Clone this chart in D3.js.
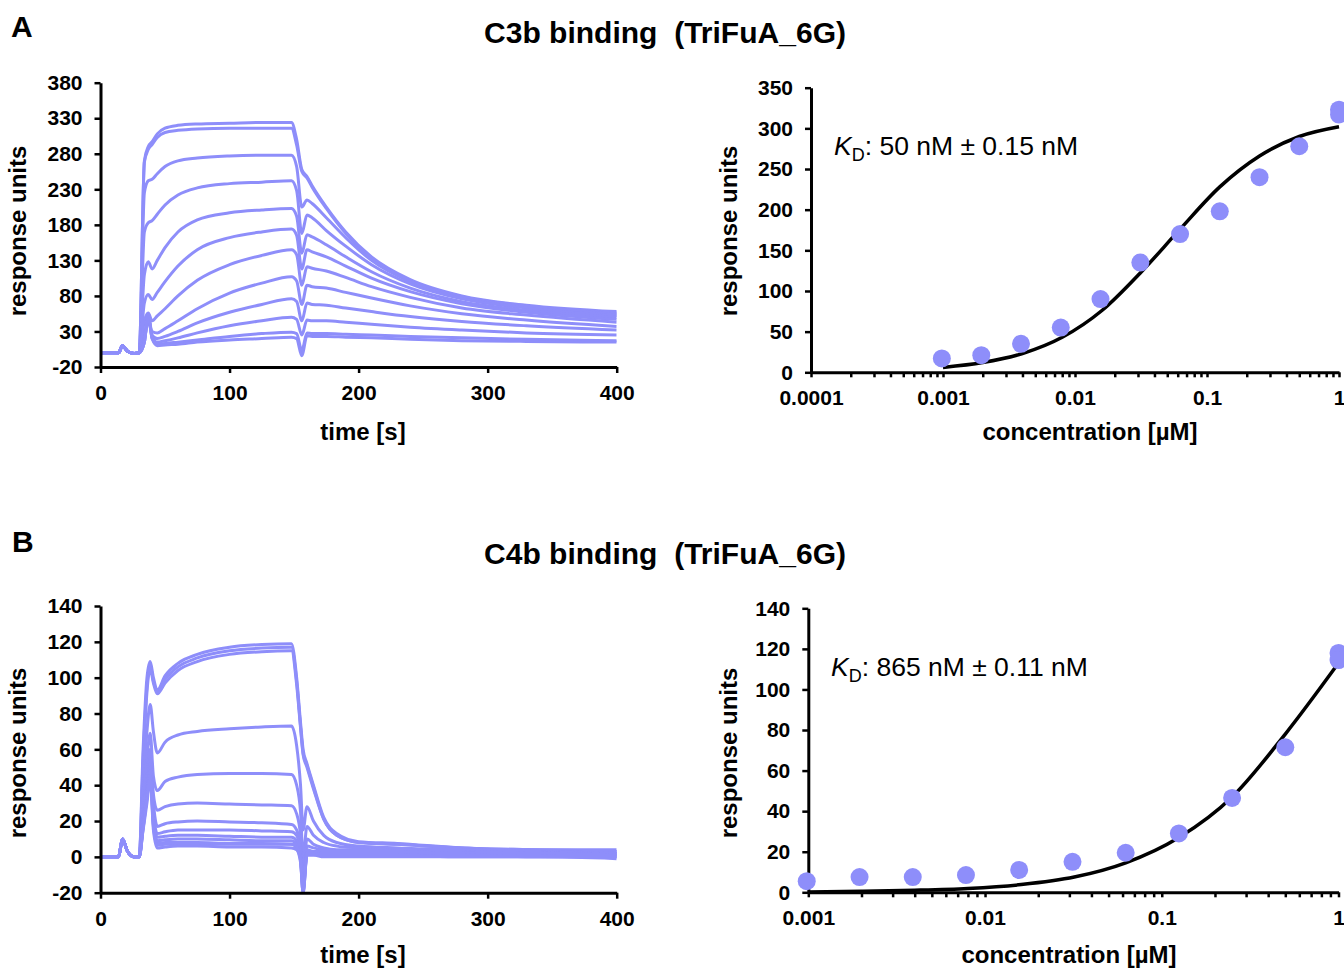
<!DOCTYPE html>
<html>
<head>
<meta charset="utf-8">
<script src="https://cdn.jsdelivr.net/npm/d3@7"></script>
<style>
  body { margin: 0; background: #fff; }
  svg { display: block; font-family: Arial, 'Liberation Sans', sans-serif; }
  .tick text { font-size: 21px; font-weight: bold; fill: #000; }
  .axis path, .axis line { stroke: #000; }
  .axis path { stroke-width: 3; }
  .axis line { stroke-width: 2.5; }
</style>
</head>
<body>
<svg id="chart" width="1344" height="969"></svg>
<script>
// sensorgram times (s)
const timeA = [0, 14, 17, 21, 26, 30, 34, 37, 40, 44, 50, 60, 75, 100, 125, 148, 152, 156, 160, 164, 175, 190, 210, 240, 280, 330, 400];
const tracesA = [
  [0, 0, 10, 2, -1, 0, 270, 290, 297, 308, 316, 320, 322, 323, 324, 324, 300, 258, 248, 235, 205, 170, 135, 103, 80, 67, 58],
  [0, 0, 10, 2, -1, 0, 268, 286, 293, 303, 310, 313, 315, 316, 316, 316, 292, 255, 246, 233, 203, 168, 133, 101, 79, 66, 56],
  [0, 0, 10, 2, -1, 0, 225, 242, 244, 252, 262, 270, 274, 277, 278, 278, 262, 205, 215, 210, 190, 162, 130, 100, 78, 65, 54],
  [0, 0, 10, 2, -1, 0, 170, 183, 186, 195, 208, 222, 232, 238, 240, 242, 228, 168, 194, 190, 172, 150, 124, 97, 76, 63, 52],
  [0, 0, 10, 2, -1, 0, 110, 128, 118, 130, 148, 170, 187, 197, 201, 203, 192, 140, 166, 163, 152, 135, 114, 91, 72, 60, 50],
  [0, 0, 10, 2, -1, 0, 70, 82, 75, 85, 100, 122, 145, 162, 170, 174, 165, 118, 145, 142, 135, 122, 105, 86, 69, 57, 47],
  [0, 0, 10, 2, -1, 0, 45, 56, 45, 52, 62, 80, 102, 124, 137, 145, 138, 95, 121, 119, 115, 106, 93, 78, 63, 53, 43],
  [0, 0, 10, 2, -1, 0, 25, 48, 30, 28, 34, 45, 62, 84, 98, 107, 101, 68, 95, 93, 91, 85, 77, 66, 55, 46, 37],
  [0, 0, 10, 2, -1, 0, 20, 45, 25, 20, 23, 30, 42, 57, 68, 76, 72, 45, 70, 68, 67, 63, 58, 51, 44, 38, 32],
  [0, 0, 10, 2, -1, 0, 15, 50, 22, 15, 17, 21, 28, 38, 45, 50, 47, 25, 46, 45, 45, 43, 40, 36, 32, 28, 25],
  [0, 0, 10, 2, -1, 0, 15, 55, 20, 12, 13, 15, 18, 23, 27, 29, 27, 3, 28, 27, 27, 26, 25, 23, 21, 19, 17],
  [0, 0, 10, 2, -1, 0, 15, 55, 20, 10, 11, 12, 15, 18, 20, 22, 20, -4, 24, 23, 23, 22, 21, 19, 17, 16, 15]
];

const timeB = [0, 14, 17, 21, 26, 30, 33, 36, 38.5, 41, 44, 50, 60, 75, 100, 125, 148, 152, 155, 157, 160, 165, 173, 183, 200, 230, 280, 340, 400];
const tracesB = [
  [0, 0, 10, 3, 0, 0, 60, 100, 109, 100, 93, 101, 108, 113, 117, 118.5, 119, 100, 75, 60, 52, 40, 22, 13, 8.5, 7.5, 5, 4, 3],
  [0, 0, 10, 3, 0, 0, 55, 95, 107, 98, 92, 99, 106, 111, 115, 116.5, 117, 98, 73, 58, 51, 39, 21, 12, 8, 7, 5, 4, 4],
  [0, 0, 10, 3, 0, 0, 50, 92, 105, 97, 91, 97, 104, 109, 113, 114.5, 115, 96, 72, 57, 50, 38, 21, 12, 8, 7, 5, 3, 2],
  [0, 0, 10, 3, 0, 0, 35, 70, 85, 70, 58, 64, 68, 70, 71.5, 72.5, 73, 62, 40, 15, 28, 20, 12, 8, 6, 5, 4, 3, 3],
  [0, 0, 10, 3, 0, 0, 30, 55, 69, 45, 37, 42, 44.5, 46, 46.5, 46.5, 46, 40, 25, 0, 17, 12, 8, 6, 5, 4, 4, 3, 2],
  [0, 0, 10, 3, 0, 0, 25, 45, 60, 35, 26, 28, 29.5, 30, 29.5, 29, 28.5, 24, 12, -8, 10, 7, 5, 4, 4, 3, 3, 3, 1],
  [0, 0, 10, 3, 0, 0, 20, 40, 55, 30, 17, 18.5, 19.5, 20, 19.5, 19, 18, 15, 5, -12, 6, 5, 4, 3, 3, 3, 3, 2, 2],
  [0, 0, 10, 3, 0, 0, 20, 38, 52, 25, 13, 14, 15, 15, 15, 14.5, 14, 12, 3, -15, 4, 3, 3, 3, 3, 3, 2, 2, 1],
  [0, 0, 10, 3, 0, 0, 18, 35, 50, 22, 11, 11.5, 12, 12, 11.5, 11, 11, 9, 1, -17, 3, 3, 2, 2, 2, 2, 2, 1, 0],
  [0, 0, 10, 3, 0, 0, 18, 35, 48, 20, 9, 9.5, 10, 10, 9.5, 9, 9, 7, 0, -18, 2, 2, 2, 2, 2, 2, 2, 2, 1],
  [0, 0, 10, 3, 0, 0, 16, 33, 46, 18, 7.5, 8, 8, 8, 7.5, 7.5, 7, 6, -1, -20, 2, 2, 1, 1, 1, 1, 1, 0, 0],
  [0, 0, 10, 3, 0, 0, 16, 33, 45, 17, 6.5, 7, 7, 7, 7, 7, 7, 5, -2, -20, 1, 1, 1, 1, 1, 1, 0, 0, -1],
  [0, 0, 10, 3, 0, 0, 15, 30, 44, 15, 5, 5.5, 6, 6, 5.5, 5.5, 5, 4, -3, -20, 1, 1, 0, 0, 0, 0, 0, 0, 0]
];

// steady-state binding (µM, RU)
const concA = [0.00098, 0.00195, 0.0039, 0.0078, 0.0156, 0.03125, 0.0625, 0.125, 0.25, 0.5, 1, 1];
const respA = [17, 21, 35, 55, 90, 135, 170, 198, 240, 278, 323, 317];
const fitConcA = [0.001, 0.002, 0.004, 0.008, 0.016, 0.032, 0.0625, 0.125, 0.25, 0.5, 1];
const fitA = [6, 12, 23, 43, 76, 124, 176, 228, 266, 290, 302];

const concB = [0.00098, 0.00195, 0.0039, 0.0078, 0.0156, 0.03125, 0.0625, 0.125, 0.25, 0.5, 1, 1];
const respB = [5.5, 7.5, 7.5, 8.5, 11, 15, 19.5, 29, 46.5, 71.5, 118, 114.5];
const fitConcB = [0.001, 0.002, 0.004, 0.008, 0.016, 0.032, 0.0625, 0.125, 0.25, 0.5, 1];
const fitB = [0.2, 0.5, 1, 1.9, 3.8, 7.5, 14.5, 27, 47, 78, 113];

const timeTicks = [0, 100, 200, 300, 400];
const ruTicksA = [-20, 30, 80, 130, 180, 230, 280, 330, 380];
const ruTicksB = [-20, 0, 20, 40, 60, 80, 100, 120, 140];
const bindTicksA = [0, 50, 100, 150, 200, 250, 300, 350];
const bindTicksB = [0, 20, 40, 60, 80, 100, 120, 140];
const concLabelsA = ['0.0001', '0.001', '0.01', '0.1', '1'];
const concLabelsB = ['0.001', '0.01', '0.1', '1'];

const purple = '#8e8efa';
const svg = d3.select('#chart');
const plainNum = (d) => String(d); // hyphen minus like the original

function sensorgram(id, times, traces, y, yTicks, xLabelY, yTitleMid) {
  const x = d3.scaleLinear().domain([0, 400]).range([100.5, 616.7]);
  const g = svg.append('g');
  g.append('clipPath').attr('id', id)
    .append('rect').attr('x', x(0)).attr('y', y.range()[1] - 2)
    .attr('width', x(400) - x(0)).attr('height', y.range()[0] - y.range()[1] + 2);

  const line = d3.line()
    .x((d, i) => x(times[i]))
    .y((d) => y(d))
    .curve(d3.curveMonotoneX);

  g.append('g').attr('clip-path', `url(#${id})`)
    .selectAll('path')
    .data(traces)
    .join('path')
    .attr('d', line)
    .attr('fill', 'none')
    .attr('stroke', purple)
    .attr('stroke-width', 3)
    .attr('stroke-linejoin', 'round');

  g.append('g').attr('class', 'axis')
    .attr('transform', `translate(0,${y.range()[0]})`)
    .call(d3.axisBottom(x).tickValues(timeTicks).tickFormat(plainNum)
      .tickSize(6).tickPadding(12).tickSizeOuter(0));
  g.append('g').attr('class', 'axis')
    .attr('transform', `translate(${x(0)},0)`)
    .call(d3.axisLeft(y).tickValues(yTicks).tickFormat(plainNum)
      .tickSize(6).tickPadding(12).tickSizeOuter(0));

  g.append('text').attr('x', 363).attr('y', xLabelY)
    .attr('text-anchor', 'middle').attr('font-size', 24).attr('font-weight', 'bold')
    .text('time [s]');
  g.append('text')
    .attr('transform', `translate(26,${yTitleMid}) rotate(-90)`)
    .attr('text-anchor', 'middle').attr('font-size', 24).attr('font-weight', 'bold')
    .text('response units');
}

function binding(x, y, yTicks, labels, conc, resp, fitConc, fit, kdText, kdPos, xTitle, xLabelY, yTitleMid) {
  const g = svg.append('g');
  const labelFor = new Map(labels.map((l) => [+l, l]));

  g.append('g').attr('class', 'axis')
    .attr('transform', `translate(0,${y(0)})`)
    .call(d3.axisBottom(x).tickValues(x.ticks()).tickSize(5).tickPadding(13).tickSizeOuter(0)
      .tickFormat((d) => labelFor.get(+d.toPrecision(6)) || ''));
  g.append('g').attr('class', 'axis')
    .attr('transform', `translate(${x.range()[0]},0)`)
    .call(d3.axisLeft(y).tickValues(yTicks).tickFormat(plainNum)
      .tickSize(6).tickPadding(12).tickSizeOuter(0));

  g.append('path')
    .datum(fit)
    .attr('d', d3.line().x((d, i) => x(fitConc[i])).y((d) => y(d)).curve(d3.curveMonotoneX))
    .attr('fill', 'none').attr('stroke', '#000').attr('stroke-width', 3.5);

  g.selectAll('circle')
    .data(resp)
    .join('circle')
    .attr('cx', (d, i) => x(conc[i]))
    .attr('cy', (d) => y(d))
    .attr('r', 9)
    .attr('fill', purple);

  const kd = g.append('text').attr('x', kdPos[0]).attr('y', kdPos[1]).attr('font-size', 26.5);
  kd.append('tspan').attr('font-style', 'italic').text('K');
  kd.append('tspan').attr('font-size', 18).attr('dy', 6).text('D');
  kd.append('tspan').attr('dy', -6).text(kdText);

  g.append('text').attr('x', xTitle).attr('y', xLabelY)
    .attr('text-anchor', 'middle').attr('font-size', 24).attr('font-weight', 'bold')
    .text('concentration [µM]');
  g.append('text')
    .attr('transform', `translate(737,${yTitleMid}) rotate(-90)`)
    .attr('text-anchor', 'middle').attr('font-size', 24).attr('font-weight', 'bold')
    .text('response units');
}

// panel A
sensorgram('clipA', timeA, tracesA, d3.scaleLinear().domain([-20, 380]).range([367, 82.7]), ruTicksA, 440, 231);
binding(
  d3.scaleLog().domain([0.0001, 1]).range([811, 1339]),
  d3.scaleLinear().domain([0, 350]).range([372.3, 87.7]),
  bindTicksA, concLabelsA, concA, respA, fitConcA, fitA,
  ': 50 nM ± 0.15 nM', [834, 155], 1090, 440, 231
);

// panel B
sensorgram('clipB', timeB, tracesB, d3.scaleLinear().domain([-20, 140]).range([892.7, 606]), ruTicksB, 963, 753);
binding(
  d3.scaleLog().domain([0.001, 1]).range([808.3, 1338.5]),
  d3.scaleLinear().domain([0, 140]).range([892.3, 608.3]),
  bindTicksB, concLabelsB, concB, respB, fitConcB, fitB,
  ': 865 nM ± 0.11 nM', [831, 676], 1069, 963, 753
);

// panel letters and titles
svg.append('text').attr('x', 11).attr('y', 37).attr('font-size', 30).attr('font-weight', 'bold').text('A');
svg.append('text').attr('x', 12).attr('y', 552).attr('font-size', 30).attr('font-weight', 'bold').text('B');
svg.append('text').attr('x', 665).attr('y', 43).attr('text-anchor', 'middle')
  .attr('font-size', 29).attr('font-weight', 'bold').style('white-space', 'pre')
  .attr('textLength', 362).attr('lengthAdjust', 'spacingAndGlyphs')
  .text('C3b binding  (TriFuA_6G)');
svg.append('text').attr('x', 665).attr('y', 564).attr('text-anchor', 'middle')
  .attr('font-size', 29).attr('font-weight', 'bold').style('white-space', 'pre')
  .attr('textLength', 362).attr('lengthAdjust', 'spacingAndGlyphs')
  .text('C4b binding  (TriFuA_6G)');
</script>
</body>
</html>
